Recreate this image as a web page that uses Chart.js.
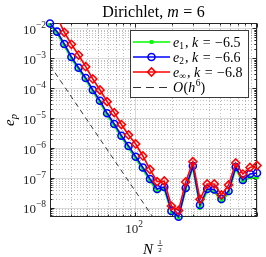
<!DOCTYPE html>
<html><head><meta charset="utf-8">
<script src="https://cdn.jsdelivr.net/npm/chart.js@4/dist/chart.umd.min.js"></script>
<style>html,body{margin:0;padding:0;background:#fff;}#wrap{width:266px;height:257px;}</style>
</head><body><div id="wrap"><canvas id="c" width="266" height="257"></canvas></div>
<script>
// ---- data ----
const nHalf = [20.0, 22.89, 26.20, 29.98, 34.32, 39.28, 44.95, 51.45, 58.89, 67.40,
  77.14, 88.29, 101.05, 115.65, 132.37, 151.50, 173.39, 198.45, 227.13, 259.96,
  297.53, 340.53, 389.74, 446.07, 510.54, 584.32, 668.77, 765.42, 876.04, 1000];
const e1 = [1.3e-2, 6.7e-3, 2.6e-3, 9.5e-4, 4.2e-4, 1.9e-4, 7.5e-5, 3.3e-5, 1.25e-5, 5.5e-6,
  2.25e-6, 1.0e-6, 4.4e-7, 1.9e-7, 7.9e-8, 3.6e-8, 4.2e-8, 6.8e-9, 4.7e-9, 3.9e-8,
  2.2e-7, 1.0e-8, 3.6e-8, 3.5e-8, 1.65e-8, 3.1e-8, 2.0e-7, 7.3e-8, 1.05e-7, 1.05e-7];
const e2 = [1.45e-2, 7.7e-3, 2.99e-3, 1.10e-3, 4.83e-4, 2.19e-4, 8.69e-5, 3.82e-5, 1.45e-5, 6.37e-6,
  2.59e-6, 1.17e-6, 5.15e-7, 2.25e-7, 9.29e-8, 4.31e-8, 5.02e-8, 7.92e-9, 5.1e-9, 4.65e-8,
  2.52e-7, 1.26e-8, 4.31e-8, 4.14e-8, 2.0e-8, 3.69e-8, 2.33e-7, 8.59e-8, 1.36e-7, 1.47e-7];
const eInf = [5.5e-2, 2.4e-2, 7.35e-3, 2.92e-3, 1.28e-3, 5.21e-4, 2.03e-4, 8.69e-5, 3.54e-5, 1.52e-5,
  6.12e-6, 2.74e-6, 1.37e-6, 5.45e-7, 1.93e-7, 7.55e-8, 7.96e-8, 1.16e-8, 8.24e-9, 7.38e-8,
  3.51e-7, 1.95e-8, 6.32e-8, 6.32e-8, 2.72e-8, 5.85e-8, 3.18e-7, 1.36e-7, 2.25e-7, 2.62e-7];
const refX = [20, 150];
const refY = [5.8e-4, 3.26e-9];
const yTickExps = [-8, -7, -6, -5, -4, -3, -2];
const xTickExps = [2, 3];
const minorMults = [2, 3, 4, 5, 6, 7, 8, 9];
const xRange = [20, 1000];
const yRange = [5e-9, 1.5e-2];
const legendLabels = [
  {sub: '1', k: '−6.5'},
  {sub: '2', k: '−6.6'},
  {sub: '∞', k: '−6.8'}
];

// ---- helpers ----
const SERIF = '"Liberation Serif", "Times New Roman", serif';
const TXT = '#262626';
function fnt(s, i) { return (i ? 'italic ' : '') + s + 'px ' + SERIF; }
function richW(ctx, parts) { let w = 0; for (const p of parts) { ctx.font = fnt(p.s, p.i); w += ctx.measureText(p.t).width + (p.g || 0); } return w; }
function drawRich(ctx, x, y, parts, align) {
  const w = richW(ctx, parts);
  let cx = align === 'center' ? x - w / 2 : (align === 'right' ? x - w : x);
  ctx.textAlign = 'left'; ctx.textBaseline = 'alphabetic';
  for (const p of parts) { ctx.font = fnt(p.s, p.i); ctx.fillText(p.t, cx, y + (p.dy || 0)); cx += ctx.measureText(p.t).width + (p.g || 0); }
}
function seg(ctx, x1, y1, x2, y2) { ctx.beginPath(); ctx.moveTo(x1, y1); ctx.lineTo(x2, y2); ctx.stroke(); }
function pts(xs, ys) { return xs.map((x, i) => ({x: x, y: ys[i]})); }

function minorVals(lo, hi) {
  const out = [];
  for (let e = Math.floor(Math.log10(lo)); e <= Math.ceil(Math.log10(hi)); e++)
    for (const m of minorMults) { const v = m * Math.pow(10, e); if (v > lo * 1.0001 && v < hi / 1.0001) out.push(v); }
  return out;
}

const axesPlugin = {
  id: 'axesPlugin',
  beforeDatasetsDraw(chart) {
    const ctx = chart.ctx, ca = chart.chartArea, xs = chart.scales.x, ys = chart.scales.y;
    ctx.save();
    ctx.lineWidth = 1;
    ctx.setLineDash([1, 2]);
    ctx.strokeStyle = 'rgba(0,0,0,0.25)';
    for (const v of minorVals(xRange[0], xRange[1])) { const p = Math.round(xs.getPixelForValue(v)) + 0.5; seg(ctx, p, ca.top, p, ca.bottom); }
    for (const v of minorVals(yRange[0], yRange[1])) { const p = Math.round(ys.getPixelForValue(v)) + 0.5; seg(ctx, ca.left, p, ca.right, p); }
    ctx.setLineDash([]);
    ctx.strokeStyle = 'rgba(0,0,0,0.15)';
    for (const e of xTickExps) { const p = Math.round(xs.getPixelForValue(Math.pow(10, e))) + 0.5; seg(ctx, p, ca.top, p, ca.bottom); }
    for (const e of yTickExps) { const p = Math.round(ys.getPixelForValue(Math.pow(10, e))) + 0.5; seg(ctx, ca.left, p, ca.right, p); }
    ctx.strokeStyle = TXT;
    const L = ca.left + 0.5, R = ca.right - 0.5, T = ca.top + 0.5, B = ca.bottom - 0.5;
    for (const v of minorVals(xRange[0], xRange[1])) { const p = Math.round(xs.getPixelForValue(v)) + 0.5; seg(ctx, p, B, p, B - 2); seg(ctx, p, T, p, T + 2); }
    for (const v of minorVals(yRange[0], yRange[1])) { const p = Math.round(ys.getPixelForValue(v)) + 0.5; seg(ctx, L, p, L + 2, p); seg(ctx, R, p, R - 2, p); }
    for (const e of xTickExps) { const p = Math.round(xs.getPixelForValue(Math.pow(10, e))) + 0.5; seg(ctx, p, B, p, B - 4); seg(ctx, p, T, p, T + 4); }
    for (const e of yTickExps) { const p = Math.round(ys.getPixelForValue(Math.pow(10, e))) + 0.5; seg(ctx, L, p, L + 4, p); seg(ctx, R, p, R - 4, p); }
    ctx.strokeRect(L, T, R - L, B - T);
    ctx.restore();
  },
  afterDraw(chart) {
    const ctx = chart.ctx, ca = chart.chartArea, xs = chart.scales.x, ys = chart.scales.y;
    ctx.save();
    ctx.fillStyle = TXT;
    for (const e of yTickExps) {
      const p = ys.getPixelForValue(Math.pow(10, e));
      drawRich(ctx, ca.left - 4, p + 5.5, [{t: '10', s: 13}, {t: '−' + (-e), s: 9.5, dy: -6}], 'right');
    }
    for (const e of xTickExps) {
      const v = Math.pow(10, e);
      if (v > xRange[1] / 1.001) continue;
      const p = xs.getPixelForValue(v);
      drawRich(ctx, p - 1, ca.bottom + 16, [{t: '10', s: 13}, {t: String(e), s: 9.5, dy: -6}], 'center');
    }
    ctx.fillStyle = '#000';
    const cx = (ca.left + ca.right) / 2;
    drawRich(ctx, cx, 17, [{t: 'Dirichlet,', s: 16, g: 4}, {t: 'm', s: 16, i: 1, g: 4.5}, {t: '=', s: 16, g: 4.5}, {t: '6', s: 16}], 'center');
    ctx.font = fnt(15, 1);
    ctx.textAlign = 'left';
    ctx.fillText('N', 143, 253.5);
    ctx.font = fnt(7, 0);
    ctx.textAlign = 'center';
    ctx.fillText('1', 160, 244);
    ctx.fillText('2', 160, 251.5);
    ctx.strokeStyle = '#000'; ctx.lineWidth = 0.7;
    seg(ctx, 157.5, 245.5, 162.5, 245.5);
    ctx.save();
    ctx.translate(14, 120);
    ctx.rotate(-Math.PI / 2);
    drawRich(ctx, 0, 0, [{t: 'e', s: 15, i: 1}, {t: 'p', s: 10.5, i: 1, dy: 3}], 'center');
    ctx.restore();
    // legend
    const bx = 130.5, by = 30.5, bw = 118, bh = 67;
    ctx.fillStyle = '#fff';
    ctx.fillRect(bx, by, bw, bh);
    ctx.strokeStyle = '#3a3a3a'; ctx.lineWidth = 1;
    ctx.strokeRect(bx, by, bw, bh);
    const rows = [42, 57, 72, 87.5];
    const ds = chart.data.datasets;
    for (let r = 0; r < 4; r++) {
      const d = ds[r], y = rows[r];
      ctx.save();
      ctx.strokeStyle = d.borderColor; ctx.lineWidth = d.borderWidth;
      ctx.setLineDash(d.borderDash ? [8, 5] : []);
      seg(ctx, 133, y, 170, y);
      ctx.setLineDash([]);
      if (d.pointRadius > 0) {
        ctx.fillStyle = d.pointBackgroundColor; ctx.strokeStyle = d.pointBorderColor; ctx.lineWidth = d.pointBorderWidth;
        Chart.helpers.drawPoint(ctx, {pointStyle: d.pointStyle, radius: d.pointRadius, rotation: 0, borderWidth: d.pointBorderWidth}, 151.5, y);
      }
      ctx.restore();
      ctx.fillStyle = '#000';
      const by2 = y + 4.5;
      if (r < 3) {
        drawRich(ctx, 173, by2, [{t: 'e', s: 14, i: 1}, {t: legendLabels[r].sub, s: 9.5, dy: 2.5, g: 1}, {t: ',', s: 14, g: 3.5}, {t: 'k', s: 14, i: 1, g: 4.5}, {t: '=', s: 14, g: 4.5}, {t: legendLabels[r].k, s: 14}], 'left');
      } else {
        drawRich(ctx, 173, by2, [{t: 'O', s: 14, i: 1, g: 0.5}, {t: '(', s: 14}, {t: 'h', s: 14, i: 1, g: 0.5}, {t: '6', s: 9.5, dy: -6}, {t: ')', s: 14}], 'left');
      }
    }
    ctx.restore();
  }
};

new Chart(document.getElementById('c'), {
  type: 'scatter',
  data: {
    datasets: [
      {label: 'e1', data: pts(nHalf, e1), showLine: true, borderColor: '#00ff00', borderWidth: 1.6,
        pointStyle: 'rect', pointRadius: 2, pointBorderWidth: 1, pointBorderColor: '#00ff00', pointBackgroundColor: '#00ff00',
        order: 3, clip: 6},
      {label: 'e2', data: pts(nHalf, e2), showLine: true, borderColor: '#0000ff', borderWidth: 1.6,
        pointStyle: 'circle', pointRadius: 3.5, pointBorderWidth: 1.6, pointBorderColor: '#0000ff', pointBackgroundColor: 'rgba(255,255,255,0)',
        order: 2, clip: 6},
      {label: 'einf', data: pts(nHalf, eInf), showLine: true, borderColor: '#ff0000', borderWidth: 1.6,
        pointStyle: 'rectRot', pointRadius: 4, pointBorderWidth: 1.6, pointBorderColor: '#ff0000', pointBackgroundColor: 'rgba(255,255,255,0)',
        order: 1, clip: {left: 6, top: 0, right: 6, bottom: 6}},
      {label: 'ref', data: pts(refX, refY), showLine: true, borderColor: '#333333', borderWidth: 1, borderDash: [5, 4],
        pointRadius: 0, order: 0, clip: 0}
    ]
  },
  options: {
    responsive: false, animation: false, devicePixelRatio: 1,
    layout: {padding: {left: 50, right: 9, top: 23, bottom: 40}},
    scales: {
      x: {type: 'logarithmic', min: xRange[0], max: xRange[1], display: false},
      y: {type: 'logarithmic', min: yRange[0], max: yRange[1], display: false}
    },
    plugins: {legend: {display: false}, tooltip: {enabled: false}},
    elements: {line: {tension: 0}}
  },
  plugins: [axesPlugin]
});
</script></body></html>
